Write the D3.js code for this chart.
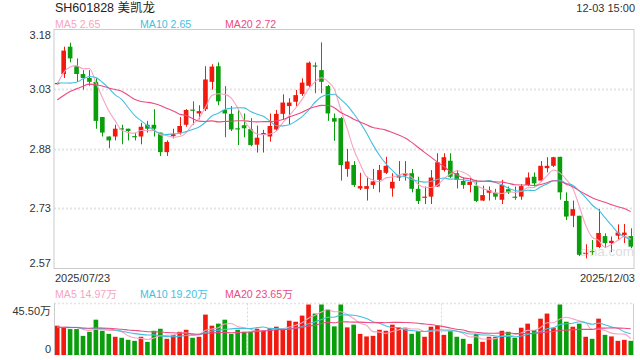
<!DOCTYPE html>
<html><head><meta charset="utf-8">
<script src="https://cdn.jsdelivr.net/npm/d3@7"></script>
<style>
body{margin:0;background:#fff;}
svg{display:block;font-family:"Liberation Sans",Arial,"Noto Sans CJK SC",sans-serif;}
</style>
</head><body>
<svg id="c" width="640" height="360"></svg>
<script>
const title = "SH601828 美凯龙";
const stamp = "12-03 15:00";
const dates = ["2025/07/23","2025/07/24","2025/07/25","2025/07/28","2025/07/29","2025/07/30","2025/07/31",
"2025/08/01","2025/08/04","2025/08/05","2025/08/06","2025/08/07","2025/08/08","2025/08/11","2025/08/12","2025/08/13","2025/08/14","2025/08/15","2025/08/18","2025/08/19","2025/08/20","2025/08/21","2025/08/22","2025/08/25","2025/08/26","2025/08/27","2025/08/28","2025/08/29",
"2025/09/01","2025/09/02","2025/09/03","2025/09/04","2025/09/05","2025/09/08","2025/09/09","2025/09/10","2025/09/11","2025/09/12","2025/09/15","2025/09/16","2025/09/17","2025/09/18","2025/09/19","2025/09/22","2025/09/23","2025/09/24","2025/09/25","2025/09/26","2025/09/29","2025/09/30",
"2025/10/09","2025/10/10","2025/10/13","2025/10/14","2025/10/15","2025/10/16","2025/10/17","2025/10/20","2025/10/21","2025/10/22","2025/10/23","2025/10/24","2025/10/27","2025/10/28","2025/10/29","2025/10/30","2025/10/31",
"2025/11/03","2025/11/04","2025/11/05","2025/11/06","2025/11/07","2025/11/10","2025/11/11","2025/11/12","2025/11/13","2025/11/14","2025/11/17","2025/11/18","2025/11/19","2025/11/20","2025/11/21","2025/11/24","2025/11/25","2025/11/26","2025/11/27","2025/11/28",
"2025/12/01","2025/12/02","2025/12/03"];

const open = [3.044,3.07,3.14,3.09,3.07,3.06,3.05,2.96,2.91,2.91,2.931,2.93,2.911,2.91,2.94,2.94,2.92,2.87,2.911,2.92,
2.94,2.979,2.969,2.98,3.05,3.09,2.978,2.968,2.931,2.939,2.929,2.889,2.914,2.910,2.928,2.968,2.988,2.999,3.019,3.040,
3.092,3.080,3.039,2.957,2.957,2.827,2.837,2.777,2.776,2.786,2.799,2.817,2.777,2.805,2.810,2.816,2.776,2.753,2.756,2.782,
2.824,2.848,2.816,2.796,2.786,2.784,2.746,2.766,2.766,2.748,2.775,2.756,2.756,2.786,2.807,2.797,2.829,2.835,2.858,2.745,
2.707,2.707,2.609,2.617,2.627,2.655,2.637,2.656,2.658,2.655];
const high = [3.048,3.14,3.15,3.11,3.08,3.08,3.06,2.96,2.91,2.94,2.94,2.93,2.92,2.945,2.95,2.98,2.92,2.90,2.93,2.96,
2.98,3.00,2.99,3.09,3.095,3.10,3.039,2.988,2.978,2.969,2.957,2.938,2.927,2.969,2.978,3.018,3.008,3.029,3.059,3.102,
3.100,3.151,3.042,2.969,2.960,2.878,2.847,2.817,2.807,2.827,2.837,2.858,2.816,2.847,2.847,2.827,2.807,2.782,2.824,2.867,
2.867,2.867,2.824,2.805,2.805,2.799,2.784,2.782,2.776,2.799,2.782,2.782,2.788,2.818,2.818,2.847,2.857,2.858,2.858,2.767,
2.746,2.707,2.634,2.645,2.724,2.662,2.654,2.685,2.686,2.675];
const low = [3.043,3.06,3.10,3.05,3.03,3.04,2.93,2.91,2.88,2.90,2.89,2.90,2.90,2.89,2.92,2.91,2.86,2.86,2.905,2.915,
2.935,2.94,2.954,2.975,3.03,2.99,2.908,2.924,2.888,2.908,2.885,2.869,2.869,2.897,2.924,2.952,2.942,2.988,3.014,3.037,
3.021,3.021,2.950,2.899,2.797,2.807,2.781,2.773,2.746,2.776,2.767,2.814,2.756,2.796,2.797,2.767,2.737,2.737,2.737,2.781,
2.820,2.804,2.777,2.776,2.767,2.742,2.745,2.746,2.748,2.737,2.763,2.748,2.748,2.783,2.782,2.794,2.818,2.832,2.748,2.696,
2.678,2.604,2.598,2.607,2.624,2.625,2.614,2.647,2.637,2.624];
const close = [3.047,3.13,3.11,3.07,3.06,3.05,2.95,2.92,2.90,2.93,2.929,2.924,2.909,2.935,2.93,2.93,2.87,2.896,2.916,2.937,
2.978,2.977,2.975,3.056,3.089,3.00,2.969,2.928,2.929,2.931,2.888,2.907,2.919,2.937,2.968,2.997,2.997,3.016,3.048,3.099,
3.089,3.050,2.969,2.948,2.837,2.846,2.786,2.783,2.783,2.795,2.824,2.835,2.794,2.808,2.816,2.776,2.745,2.756,2.805,2.844,
2.857,2.807,2.799,2.786,2.794,2.745,2.760,2.773,2.756,2.786,2.767,2.753,2.783,2.805,2.790,2.835,2.835,2.857,2.767,2.705,
2.724,2.607,2.612,2.614,2.663,2.637,2.643,2.664,2.664,2.628];
// volume in 万 (10k shares)
const volume = [25.9,24.7,22.9,22.9,16.9,20.5,31.2,21.4,18.7,16.1,15.2,13.4,12.5,16.1,11.6,21.4,23.2,14.3,17.8,20.5,
22.3,15.2,16.1,35.7,25.9,27.7,31.2,18.7,22.3,20.5,20.5,23.2,21.4,23.8,25.0,23.2,30.3,29.4,34.8,44.6,
36.6,44.6,40.1,25.3,44.6,24.4,26.8,18.7,16.4,16.9,22.3,21.4,26.8,24.1,24.1,18.7,21.1,16.1,25.0,25.9,
17.8,21.4,16.1,14.3,9.8,18.7,11.6,16.1,16.1,21.4,20.5,15.2,24.1,27.7,22.0,32.1,36.6,24.1,44.6,29.4,
25.0,27.7,16.1,14.3,32.1,17.8,16.4,12.5,13.4,12.5];
// sessions before the first visible day (for moving-average warm-up)
const priorClose = [2.90,2.91,2.93,2.92,2.946,2.98,2.99,3.00,3.01,3.014,3.129,3.113,3.05,2.97,2.99,2.979,3.038,3.052,3.101];
const priorVolume = [22.5,26.0,24.0,23.5,25.0,27.0,21.5,24.5,25.0,23.0,26.0,22.0,24.5,25.5,23.0,26.5,24.0,22.0,25.5];

const priceDomain = [2.572, 3.184];
const priceTicks = [3.184, 3.031, 2.878, 2.726, 2.572];
const volDomain = [0, 45.5];
const volTicks = [45.5, 0];
const volTickLabels = ["45.50万", "0"];
const maPeriods = [5, 10, 20];
const maColors = ["#f7a3c1", "#45bfdf", "#ec4b82"];
const priceLegend = ["MA5 2.65", "MA10 2.65", "MA20 2.72"];
const volLegend = ["MA5 14.97万", "MA10 19.20万", "MA20 23.65万"];

const UP = "#f2190e", DOWN = "#0a9e0c", AXIS = "#cccccc", GRID = "#e4e4e4", TXT = "#333";
const L = 54, R = 634, T = 29.5, B = 268.5, VT = 303.5, VB = 355;

const svg = d3.select("#c");
const n = dates.length;
const x = d3.scaleBand().domain(d3.range(n)).range([L, R]).paddingInner(0.28).paddingOuter(0.14);
const cx = i => x(i) + x.bandwidth() / 2;
const y = d3.scaleLinear().domain(priceDomain).range([B, T]);
const v = d3.scaleLinear().domain(volDomain).range([VB, VT]);

function movingAvg(vals, prior, p) {
  const all = prior.concat(vals), off = prior.length;
  return vals.map((_, i) => d3.mean(all.slice(off + i - p + 1, off + i + 1)));
}
const isUp = i => close[i] >= open[i];

// ---------- header ----------
svg.append("text").attr("x", 55).attr("y", 12).attr("font-size", 12.5).attr("fill", "#222").text(title);
svg.append("text").attr("x", 635).attr("y", 11.5).attr("text-anchor", "end").attr("font-size", 11).attr("fill", TXT).text(stamp);
const legX = [55, 140, 225];
priceLegend.forEach((t, k) => svg.append("text").attr("x", legX[k]).attr("y", 27.5).attr("font-size", 10.6).attr("fill", maColors[k]).text(t));

// ---------- price panel ----------
const g = svg.append("g");
priceTicks.slice(1, -1).forEach(t => g.append("line").attr("x1", L).attr("x2", R)
  .attr("y1", Math.round(y(t)) + 0.5).attr("y2", Math.round(y(t)) + 0.5)
  .attr("stroke", GRID).attr("stroke-width", 2).attr("stroke-dasharray", "2,2"));
g.append("rect").attr("x", L).attr("y", T).attr("width", R - L).attr("height", B - T)
  .attr("fill", "none").attr("stroke", AXIS).attr("stroke-width", 1);
priceTicks.forEach((t, k) => {
  let yy = y(t);
  if (k === 0) yy += 5.5; else if (k === priceTicks.length - 1) yy -= 5.5;
  g.append("text").attr("x", 51).attr("y", yy).attr("dy", "0.35em").attr("text-anchor", "end")
    .attr("font-size", 11).attr("fill", TXT).text(t.toFixed(2));
});

const candles = g.append("g").selectAll("g").data(d3.range(n)).join("g");
candles.append("line")
  .attr("x1", i => Math.round(cx(i)) + 0.5).attr("x2", i => Math.round(cx(i)) + 0.5)
  .attr("y1", i => y(high[i])).attr("y2", i => y(low[i]))
  .attr("stroke", i => isUp(i) ? UP : DOWN).attr("stroke-width", 1);
candles.append("rect")
  .attr("x", i => x(i)).attr("width", x.bandwidth())
  .attr("y", i => y(Math.max(open[i], close[i])))
  .attr("height", i => Math.max(1.2, Math.abs(y(open[i]) - y(close[i]))))
  .attr("fill", i => isUp(i) ? UP : DOWN);

const priceMA = maPeriods.map(p => movingAvg(close, priorClose, p));
const pLine = d3.line().x((d, i) => cx(i)).y(d => y(d)).curve(d3.curveMonotoneX);
priceMA.forEach((arr, k) => g.append("path").attr("d", pLine(arr)).attr("fill", "none")
  .attr("stroke", maColors[k]).attr("stroke-width", 1.1));

g.append("text").attr("x", 580).attr("y", 256).attr("font-size", 13.5).attr("fill", "#c9c9c9")
  .attr("opacity", 0.6).text("sina.com");

// date labels
svg.append("text").attr("x", 55).attr("y", 281.5).attr("font-size", 11).attr("fill", TXT).text(dates[0]);
svg.append("text").attr("x", 635).attr("y", 281.5).attr("text-anchor", "end").attr("font-size", 11).attr("fill", TXT).text(dates[n - 1]);

// ---------- volume panel ----------
volLegend.forEach((t, k) => svg.append("text").attr("x", legX[k]).attr("y", 298).attr("font-size", 10.6).attr("fill", maColors[k]).text(t));
const gv = svg.append("g");
[VT, VB].forEach(yy => gv.append("line").attr("x1", L).attr("x2", R).attr("y1", yy).attr("y2", yy)
  .attr("stroke", GRID).attr("stroke-width", 1.5).attr("stroke-dasharray", "2,2"));
[1, 2].forEach(k => {
  const xx = Math.round(L + (R - L) * k / 3) + 0.5;
  gv.append("line").attr("x1", xx).attr("x2", xx).attr("y1", VT).attr("y2", VB)
    .attr("stroke", "#d8d8d8").attr("stroke-width", 1).attr("stroke-dasharray", "2,2");
});
gv.append("line").attr("x1", L + 0.5).attr("x2", L + 0.5).attr("y1", VT).attr("y2", VB).attr("stroke", AXIS);
gv.append("line").attr("x1", R - 0.5).attr("x2", R - 0.5).attr("y1", VT).attr("y2", VB).attr("stroke", AXIS);
volTicks.forEach((t, k) => {
  const yy = k === 0 ? v(t) + 7.5 : v(t) - 6;
  gv.append("text").attr("x", 51).attr("y", yy).attr("dy", "0.35em").attr("text-anchor", "end")
    .attr("font-size", 11).attr("fill", TXT).text(volTickLabels[k]);
});
gv.append("g").selectAll("rect").data(d3.range(n)).join("rect")
  .attr("x", i => x(i)).attr("width", x.bandwidth())
  .attr("y", i => v(volume[i])).attr("height", i => VB - v(volume[i]))
  .attr("fill", i => isUp(i) ? UP : DOWN);
const volMA = maPeriods.map(p => movingAvg(volume, priorVolume, p));
const vLine = d3.line().x((d, i) => cx(i)).y(d => v(d)).curve(d3.curveMonotoneX);
volMA.forEach((arr, k) => gv.append("path").attr("d", vLine(arr)).attr("fill", "none")
  .attr("stroke", maColors[k]).attr("stroke-width", 1.1));
</script>
</body></html>
